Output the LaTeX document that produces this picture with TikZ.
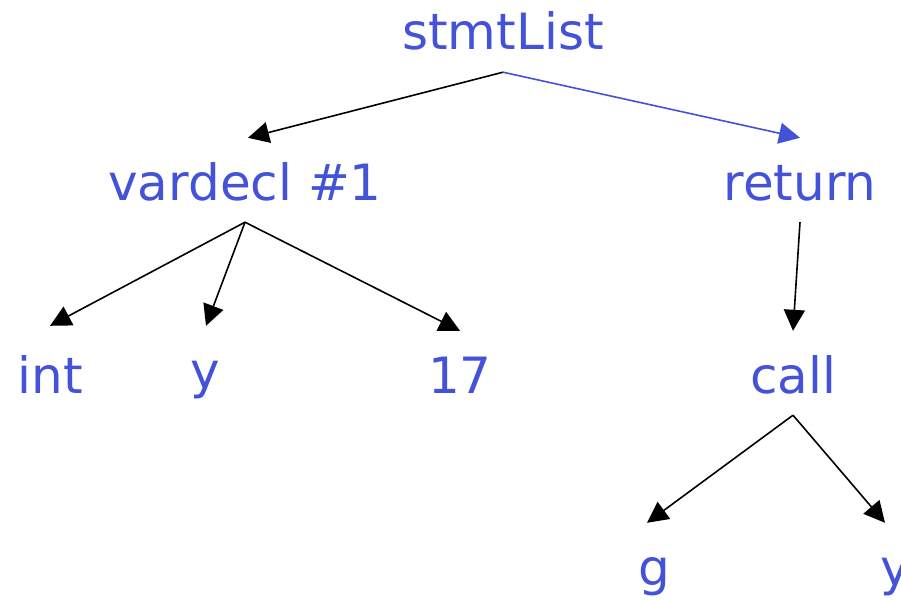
\documentclass[tikz,border=0pt]{standalone}
\usepackage{fontspec}
\setmainfont{DejaVu Sans}
\usetikzlibrary{arrows.meta}
\definecolor{treeblue}{RGB}{68,82,216}
\tikzset{
  lbl/.style={font=\fontsize{50}{60}\selectfont, text=treeblue, anchor=base,
    inner xsep=0pt, inner ysep=0pt, text height=62pt, text depth=22pt},
  link/.style={line width=1.6pt, -{Triangle[length=21pt,width=21pt]}},
}
\begin{document}
\begin{tikzpicture}[x=1pt,y=-1pt]
\useasboundingbox (0,0) rectangle (901,599);
\node[lbl] (root) at (503,50) {stmtList};
\node[lbl] (vd) at (245,200) {vardecl \#1};
\node[lbl] (ret) at (800,200) {return};
\node[lbl] (int) at (50,393) {int};
\node[lbl] (y1) at (205,388) {y};
\node[lbl] (n17) at (460,393) {17};
\node[lbl] (call) at (793,393) {call};
\node[lbl] (g) at (654,585) {g};
\node[lbl] (y2) at (895,585) {y};
\draw[link] (root.south) -- ([xshift=3pt]vd.north);
\draw[link, treeblue] (root.south) -- (ret.north);
\draw[link] (vd.south) -- ([yshift=5pt]int.north);
\draw[link] (vd.south) -- ([xshift=1pt]y1.north);
\draw[link] (vd.south) -- (n17.north);
\draw[link] (ret.south) -- (call.north);
\draw[link] (call.south) -- ([xshift=-7pt]g.north);
\draw[link] (call.south) -- ([xshift=-10pt]y2.north);
\end{tikzpicture}
\end{document}
